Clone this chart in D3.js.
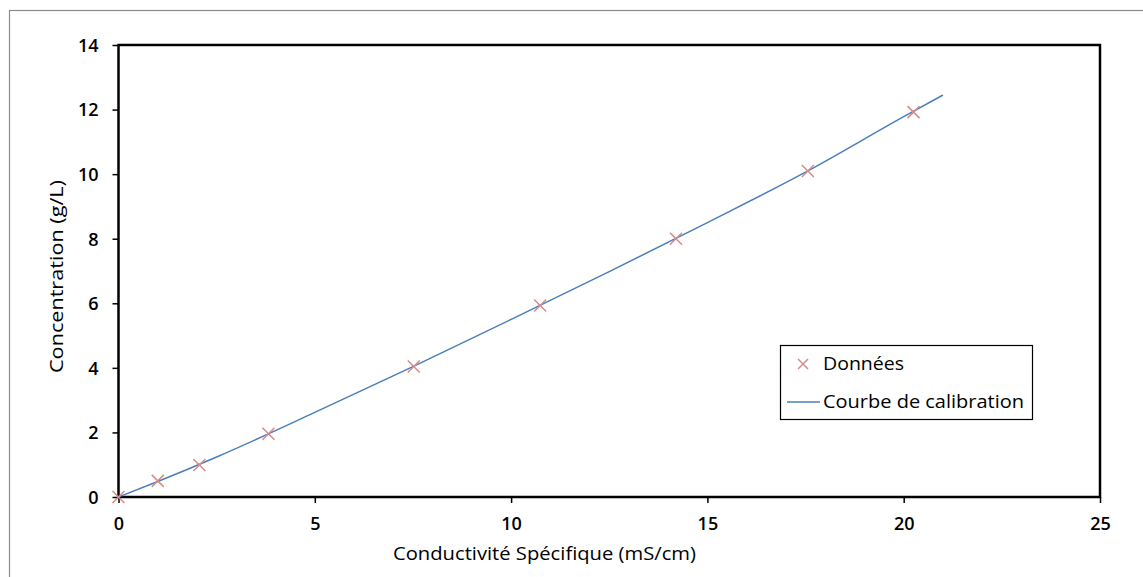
<!DOCTYPE html>
<html><head><meta charset="utf-8">
<script src="https://cdn.jsdelivr.net/npm/d3@7"></script>
<style>body{margin:0;background:#fff}svg{display:block}text{font-family:"Open Sans",sans-serif;fill:#000}</style>
</head><body><svg id="c" width="1143" height="577"></svg>
<script>
const dataX = [0, 1.0, 2.06, 3.82, 7.52, 10.74, 14.2, 17.56, 20.25];
const dataY = [0, 0.5, 0.99, 1.96, 4.04, 5.93, 8.0, 10.1, 11.92];
const curveX = [0, 1, 2.5, 5, 7.5, 10, 12.5, 15, 17.5, 20, 21];
const curveY = [0, 0.48, 1.24, 2.62, 4.04, 5.5, 6.98, 8.5, 10.06, 11.78, 12.45];
const xTicks = [0, 5, 10, 15, 20, 25];
const yTicks = [0, 2, 4, 6, 8, 10, 12, 14];
const seriesNames = ["Données", "Courbe de calibration"];
const xTitle = "Conductivité Spécifique (mS/cm)";
const yTitle = "Concentration (g/L)";

const svg = d3.select("#c");
const L = 118.5, R = 1100, T = 45, B = 497;
const x = d3.scaleLinear().domain([0, 25]).range([L, R]);
const y = d3.scaleLinear().domain([0, 14]).range([B, T]);

svg.append("rect").attr("x", 9.5).attr("y", 10.5).attr("width", 1140).attr("height", 570)
  .attr("fill", "#fff").attr("stroke", "#8c8c8c").attr("stroke-width", 1.2);

const fs = 18;
const xa = svg.append("g").attr("transform", `translate(0,${B})`)
  .call(d3.axisBottom(x).tickValues(xTicks).tickSize(6).tickPadding(14));
const ya = svg.append("g").attr("transform", `translate(${L},0)`)
  .call(d3.axisLeft(y).tickValues(yTicks).tickSize(6).tickPadding(14));
[xa, ya].forEach(a => {
  a.select(".domain").remove();
  a.selectAll(".tick line").attr("stroke", "#000").attr("stroke-width", 1.5);
  a.selectAll("text").style("font-size", fs + "px").attr("fill", "#000").style("font-weight", 600);
});
ya.selectAll("text").attr("dy", "0.35em");

svg.append("rect").attr("x", L).attr("y", T).attr("width", R - L).attr("height", B - T)
  .attr("fill", "none").attr("stroke", "#000").attr("stroke-width", 2.5);

const pts = curveX.map((v, i) => [v, curveY[i]]);
svg.append("path").attr("d", d3.line().x(d => x(d[0])).y(d => y(d[1])).curve(d3.curveMonotoneX)(pts))
  .attr("fill", "none").attr("stroke", "#4a7ebb").attr("stroke-width", 1.5);

const cross = (g, cx, cy, m) => g.append("path")
  .attr("d", `M${cx - m},${cy - m}L${cx + m},${cy + m}M${cx - m},${cy + m}L${cx + m},${cy - m}`)
  .attr("stroke", "#d68b89").attr("stroke-width", 1.5).attr("fill", "none");
const mk = svg.append("g");
dataX.forEach((v, i) => cross(mk, x(v), y(dataY[i]), 6));

svg.append("text").attr("x", 393).attr("y", 560)
  .attr("textLength", 303).attr("lengthAdjust", "spacingAndGlyphs")
  .style("font-size", fs + "px").text(xTitle);
svg.append("text").attr("transform", `translate(63,373) rotate(-90)`)
  .attr("textLength", 193).attr("lengthAdjust", "spacingAndGlyphs")
  .style("font-size", fs + "px").text(yTitle);

const lg = svg.append("g");
lg.append("rect").attr("x", 780.5).attr("y", 345.5).attr("width", 252).attr("height", 74)
  .attr("fill", "#fff").attr("stroke", "#000").attr("stroke-width", 1.2);
cross(lg, 803, 364, 5);
lg.append("line").attr("x1", 787).attr("x2", 820).attr("y1", 402).attr("y2", 402)
  .attr("stroke", "#4a7ebb").attr("stroke-width", 1.5);
lg.append("text").attr("x", 823).attr("y", 364).attr("dy", "0.35em")
  .attr("textLength", 81).attr("lengthAdjust", "spacingAndGlyphs")
  .style("font-size", fs + "px").text(seriesNames[0]);
lg.append("text").attr("x", 823).attr("y", 402).attr("dy", "0.35em")
  .attr("textLength", 201).attr("lengthAdjust", "spacingAndGlyphs")
  .style("font-size", fs + "px").text(seriesNames[1]);
</script></body></html>
